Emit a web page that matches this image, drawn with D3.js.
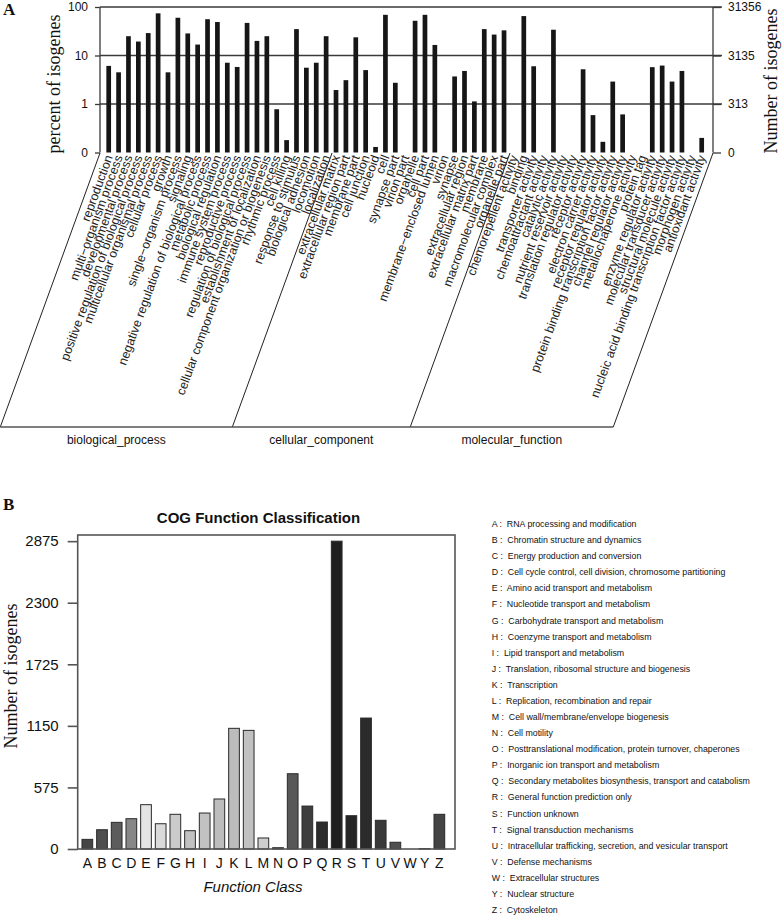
<!DOCTYPE html>
<html><head><meta charset="utf-8">
<script src="https://cdn.jsdelivr.net/npm/d3@7"></script>
<style>body{margin:0;background:#fff} svg{display:block}</style>
</head><body>
<svg id="c" width="784" height="916"></svg>
<script>
// ---------- Panel A data ----------
const bpLabels = ["reproduction","multi\u2212organism process","developmental process","positive regulation of biological process","multicellular organismal process","cellular process","growth","single\u2212organism process","signaling","negative regulation of biological process","metabolic process","biological regulation","immune system process","reproductive process","regulation of biological process","establishment of localization","cellular component organization or biogenesis","rhythmic process","cell killing","response to stimulus","biological adhesion","locomotion","localization"];
const bpValues = [6.1,4.5,25,19.4,29,74,4.5,60,28.5,16.8,56,49,7.1,5.8,47,20,25,0.78,0.18,35,5.6,7.1,25];
const ccLabels = ["extracellular matrix","extracellular region part","membrane part","cell junction","nucleoid","cell","synapse part","virion part","organelle","cell part","membrane\u2212enclosed lumen","virion","synapse","extracellular region","extracellular matrix part","membrane","macromolecular complex","organelle part"];
const ccValues = [1.94,3.1,23.7,5.0,0.13,69,2.74,0,52,69,16.5,0,3.7,4.8,1.13,35,27,33];
const mfLabels = ["chemorepellent activity","binding","transporter activity","chemoattractant activity","catalytic activity","nutrient reservoir activity","translation regulator activity","receptor activity","electron carrier activity","receptor regulator activity","protein binding transcription factor activity","channel regulator activity","metallochaperone activity","protein tag","enzyme regulator activity","molecular transducer activity","structural molecule activity","nucleic acid binding transcription factor activity","morphogen activity","antioxidant activity"];
const mfValues = [0,65,6.0,0,34,0,0,5.2,0.59,0.166,2.9,0.61,0,0,5.75,6.2,2.9,4.8,0,0.2];
const groupNames = ["biological_process","cellular_component","molecular_function"];
const leftTickVals = [100,10,1,0.1];
const leftTickLabels = ["100","10","1","0"];
const rightTickLabels = ["31356","3135","313","0"];

// ---------- Panel B data ----------
const cogLetters = ["A","B","C","D","E","F","G","H","I","J","K","L","M","N","O","P","Q","R","S","T","U","V","W","Y","Z"];
const cogValues = [90,180,249,283,414,236,324,171,336,467,1127,1108,103,12,703,401,252,2875,311,1223,268,63,0,4,324];
const cogFills = ["#454545","#4e4e4e","#5c5c5c","#878787","#e4e4e4","#dadada","#cbcbcb","#c2c2c2","#c2c2c2","#bdbdbd","#bcbcbc","#c1c1c1","#cdcdcd","#5a5a5a","#585858","#3e3e3e","#2c2c2c","#1f1f1f","#252525","#2b2b2b","#393939","#505050","#555555","#5a5a5a","#444444"];
const cogDesc = ["RNA processing and modification","Chromatin structure and dynamics","Energy production and conversion","Cell cycle control, cell division, chromosome partitioning","Amino acid transport and metabolism","Nucleotide transport and metabolism","Carbohydrate transport and metabolism","Coenzyme transport and metabolism","Lipid transport and metabolism","Translation, ribosomal structure and biogenesis","Transcription","Replication, recombination and repair","Cell wall/membrane/envelope biogenesis","Cell motility","Posttranslational modification, protein turnover, chaperones","Inorganic ion transport and metabolism","Secondary metabolites biosynthesis, transport and catabolism","General function prediction only","Function unknown","Signal transduction mechanisms","Intracellular trafficking, secretion, and vesicular transport","Defense mechanisms","Extracellular structures","Nuclear structure","Cytoskeleton"];
const cogTicks = [0,575,1150,1725,2300,2875];

const svg = d3.select("#c");
const sans = "Liberation Sans, Arial, sans-serif";
const serif = "Liberation Serif, Times New Roman, serif";

// ================= Panel A =================
const goLabels = bpLabels.concat(ccLabels, mfLabels);
const goValues = bpValues.concat(ccValues, mfValues);
const groupSizes = [bpLabels.length, ccLabels.length, mfLabels.length];
const idx = d3.range(goLabels.length);
const xA = d3.scalePoint().domain(idx).range([108.7, 701.7]);
const yA = d3.scaleLog().domain([0.1, 100]).range([152.5, 7]);
const axL = 100, axR = 713;
const gA = svg.append("g");

// gridlines
gA.selectAll("line.grid").data(leftTickVals.slice(0,3)).join("line")
  .attr("x1", axL).attr("x2", axR + 9).attr("y1", d => yA(d)).attr("y2", d => yA(d))
  .attr("stroke", "#3a3a3a").attr("stroke-width", 1.3);
// left axis
const leftAxis = gA.append("g").attr("transform", `translate(${axL},0)`)
  .call(d3.axisLeft(yA).tickValues(leftTickVals).tickFormat((d,i) => leftTickLabels[i]).tickSize(5).tickPadding(7));
leftAxis.select(".domain").attr("stroke", "#3a3a3a").attr("stroke-width", 1.3).attr("d", `M0,${yA(100)}V${yA(0.1)}`);
leftAxis.selectAll(".tick line").attr("stroke", "#3a3a3a").attr("stroke-width", 1.3);
leftAxis.selectAll("text").attr("font-family", sans).attr("font-size", 12).attr("fill", "#111");
// right axis
const rightAxis = gA.append("g").attr("transform", `translate(${axR},0)`)
  .call(d3.axisRight(yA).tickValues(leftTickVals).tickFormat((d,i) => rightTickLabels[i]).tickSize(8).tickPadding(7));
rightAxis.select(".domain").attr("stroke", "#3a3a3a").attr("stroke-width", 1.3).attr("d", `M0,${yA(100)}V${yA(0.1)}`);
rightAxis.selectAll(".tick line").attr("stroke", "#3a3a3a").attr("stroke-width", 1.3);
rightAxis.selectAll("text").attr("font-family", sans).attr("font-size", 12).attr("fill", "#111");

// bars
gA.selectAll("rect.bar").data(idx.filter(i => goValues[i] > 0.1)).join("rect")
  .attr("x", i => xA(i) - 2.35).attr("width", 4.7)
  .attr("y", i => yA(goValues[i])).attr("height", i => yA(0.1) - yA(goValues[i]))
  .attr("fill", "#161616");

// category labels
gA.selectAll("text.lab").data(idx).join("text")
  .attr("transform", i => `translate(${xA(i) + 4.2},157) rotate(-70)`)
  .attr("text-anchor", "end").attr("font-family", sans).attr("font-size", 12.5).attr("fill", "#222")
  .text(i => goLabels[i]);

// group separators (parallelogram)
const shift = 274 / Math.tan(70 * Math.PI / 180);
const bStart = [0, groupSizes[0], groupSizes[0] + groupSizes[1]];
const sepX = [axL,
  (xA(bStart[1] - 1) + xA(bStart[1])) / 2 + 1,
  (xA(bStart[2] - 1) + xA(bStart[2])) / 2 + 1,
  axR];
gA.selectAll("line.sep").data(sepX).join("line")
  .attr("x1", d => d).attr("y1", 153).attr("x2", d => d - shift).attr("y2", 427)
  .attr("stroke", "#222").attr("stroke-width", 1);
gA.append("line").attr("x1", sepX[0] - shift).attr("x2", sepX[3] - shift).attr("y1", 427).attr("y2", 427)
  .attr("stroke", "#555").attr("stroke-width", 1.6);
gA.selectAll("text.grp").data(groupNames).join("text")
  .attr("x", (d,i) => (sepX[i] + sepX[i+1]) / 2 - shift).attr("y", 444)
  .attr("text-anchor", "middle").attr("font-family", sans).attr("font-size", 12).attr("fill", "#111")
  .text(d => d);

// axis titles
gA.append("text").attr("transform", "translate(60,84) rotate(-90)").attr("text-anchor", "middle")
  .attr("font-family", serif).attr("font-size", 18).attr("fill", "#111").text("percent of isogenes");
gA.append("text").attr("transform", "translate(777,81) rotate(-90)").attr("text-anchor", "middle")
  .attr("font-family", serif).attr("font-size", 18).attr("fill", "#111").text("Number of isogenes");
gA.append("text").attr("x", 3).attr("y", 15).attr("font-family", serif).attr("font-weight", "bold")
  .attr("font-size", 17).attr("fill", "#111").text("A");

// ================= Panel B =================
const gB = svg.append("g");
const bL = 77.7, bR = 455, bT = 535, bBot = 849;
const xB = d3.scaleBand().domain(cogLetters).range([80, 446.7]);
const yB = d3.scaleLinear().domain([0, cogTicks[cogTicks.length - 1] * 1.02]).range([bBot, bT]);

gB.append("text").attr("x", 3).attr("y", 510).attr("font-family", serif).attr("font-weight", "bold")
  .attr("font-size", 17).attr("fill", "#111").text("B");
gB.append("text").attr("x", 258.5).attr("y", 523).attr("text-anchor", "middle")
  .attr("font-family", sans).attr("font-weight", "bold").attr("font-size", 15).attr("fill", "#111")
  .text("COG Function Classification");

const bw = xB.bandwidth() * 0.73;
gB.selectAll("rect.cog").data(cogLetters.map((l,i) => ({l, v: cogValues[i], f: cogFills[i]})).filter(d => d.v > 0)).join("rect")
  .attr("x", d => xB(d.l) + (xB.bandwidth() - bw) / 2).attr("width", bw)
  .attr("y", d => yB(d.v)).attr("height", d => yB(0) - yB(d.v))
  .attr("fill", d => d.f).attr("stroke", "#2a2a2a").attr("stroke-width", 1);

gB.append("rect").attr("x", bL).attr("y", bT).attr("width", bR - bL).attr("height", bBot - bT)
  .attr("fill", "none").attr("stroke", "#555").attr("stroke-width", 1.6);

const yAxisB = gB.append("g").attr("transform", `translate(${bL},0)`)
  .call(d3.axisLeft(yB).tickValues(cogTicks).tickFormat(d3.format("d")).tickSize(10).tickPadding(9));
yAxisB.select(".domain").remove();
yAxisB.selectAll(".tick line").attr("stroke", "#555").attr("stroke-width", 1.6);
yAxisB.selectAll("text").attr("font-family", sans).attr("font-size", 15).attr("fill", "#111");

gB.selectAll("text.xl").data(cogLetters).join("text")
  .attr("x", d => xB(d) + xB.bandwidth() / 2).attr("y", 868).attr("text-anchor", "middle")
  .attr("font-family", sans).attr("font-size", 14).attr("fill", "#111").text(d => d);
gB.append("text").attr("x", 253).attr("y", 892).attr("text-anchor", "middle")
  .attr("font-family", sans).attr("font-style", "italic").attr("font-size", 15).attr("fill", "#111")
  .text("Function Class");
gB.append("text").attr("transform", "translate(17,676) rotate(-90)").attr("text-anchor", "middle")
  .attr("font-family", serif).attr("font-size", 18).attr("fill", "#111").text("Number of isogenes");

// legend
const yLeg = d3.scalePoint().domain(cogLetters).range([524, 910]);
gB.selectAll("text.leg").data(cogLetters).join("text")
  .attr("x", 491.7).attr("y", d => yLeg(d)).attr("dy", "0.35em")
  .attr("font-family", sans).attr("font-size", 8.8).attr("fill", "#111")
  .style("white-space", "pre")
  .text((d,i) => `${d} :  ${cogDesc[i]}`);
</script>
</body></html>
